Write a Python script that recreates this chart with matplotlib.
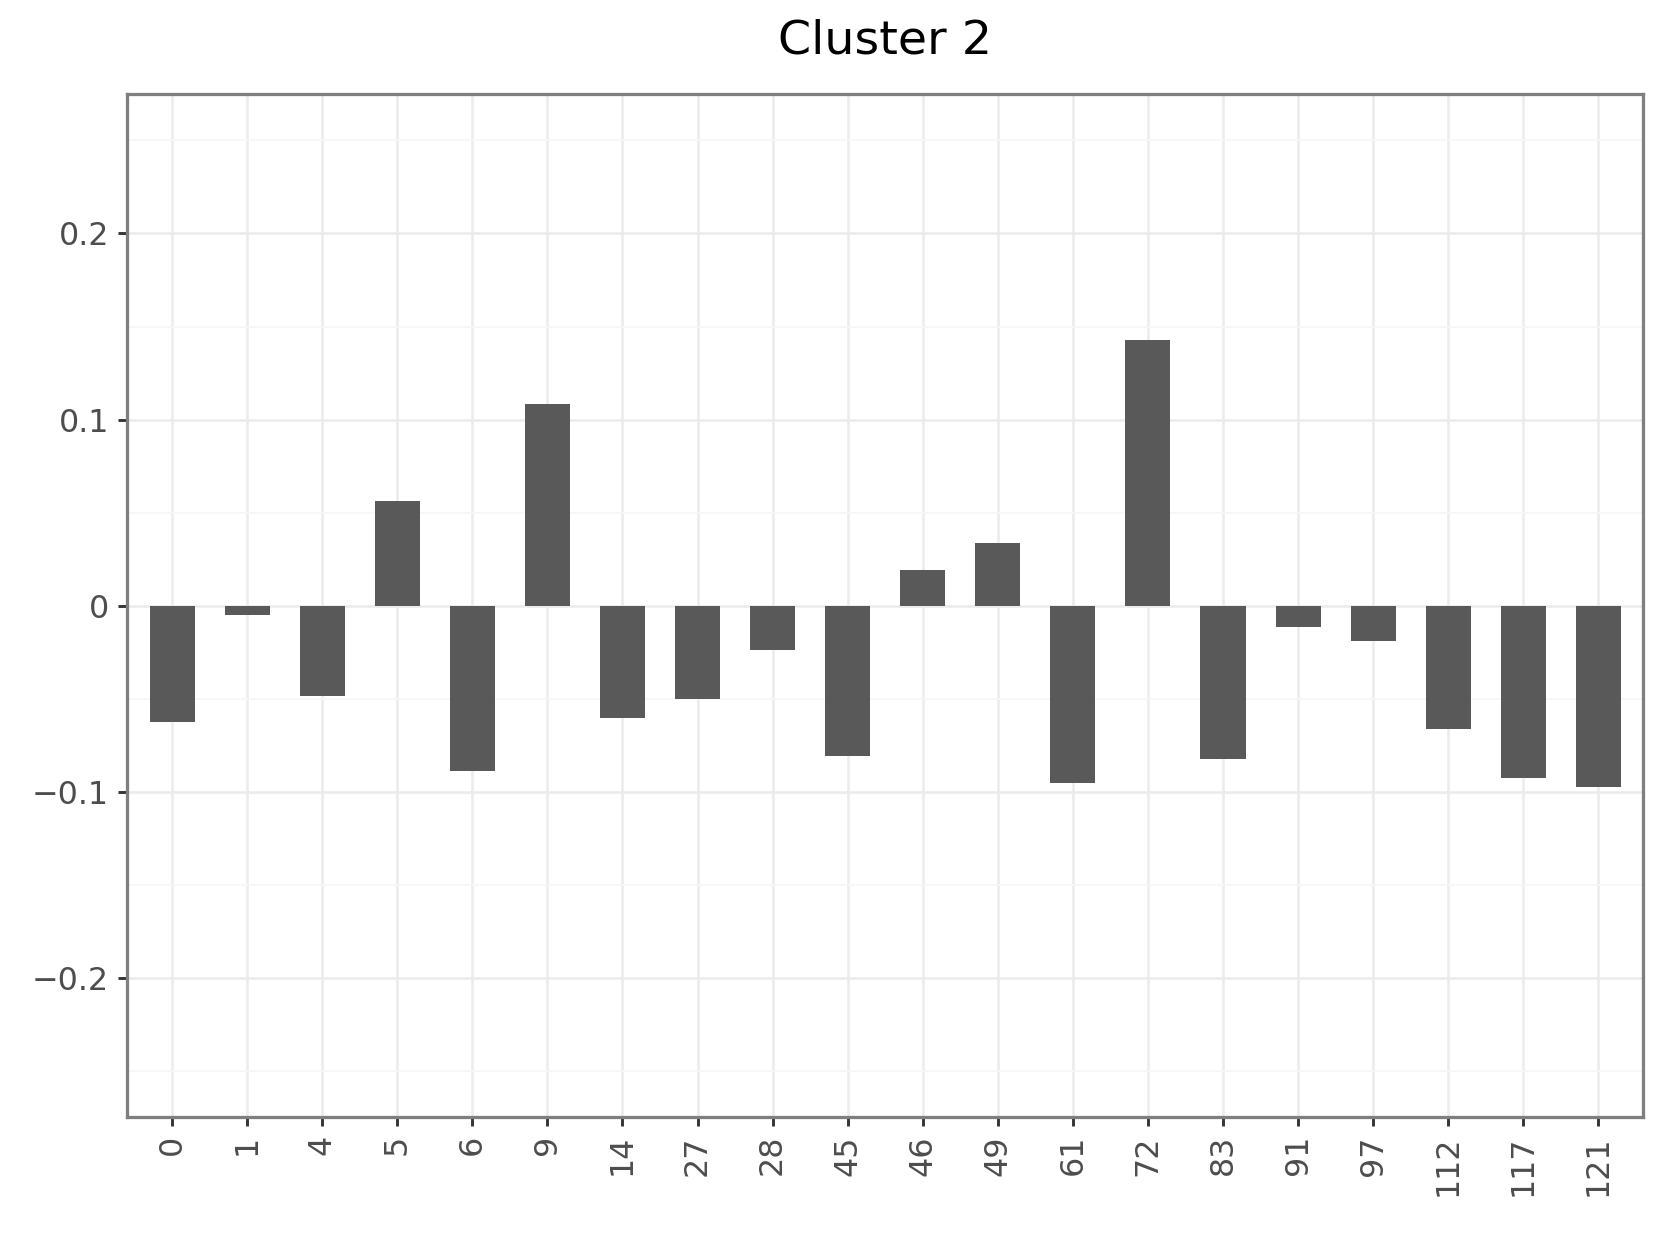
import matplotlib
matplotlib.use("Agg")
import matplotlib.pyplot as plt
import numpy as np
from matplotlib.ticker import FixedLocator

categories = ["0", "1", "4", "5", "6", "9", "14", "27", "28", "45",
              "46", "49", "61", "72", "83", "91", "97", "112", "117", "121"]
values = [-0.0625, -0.005, -0.0485, 0.056, -0.089, 0.1085, -0.0605, -0.050, -0.024, -0.081,
          0.019, 0.0335, -0.0955, 0.1426, -0.0825, -0.0115, -0.019, -0.0665, -0.0925, -0.0975]
y_ticks = [-0.2, -0.1, 0, 0.1, 0.2]
y_labels = ["\u22120.2", "\u22120.1", "0", "0.1", "0.2"]

fig = plt.figure(figsize=(6.4, 4.8), dpi=259.375)
ax = fig.add_axes([0.0765, 0.1028, 0.9135, 0.8217])

x = np.arange(len(categories))
ax.bar(x, values, width=0.6, color="#595959", zorder=3)

ax.set_xlim(-0.6, len(categories) - 0.4)
ax.set_ylim(-0.275, 0.275)

ax.set_xticks(x)
ax.set_xticklabels(categories, rotation=90, va="top", ha="center")
ax.yaxis.set_major_locator(FixedLocator(y_ticks))
ax.set_yticklabels(y_labels)
ax.yaxis.set_minor_locator(FixedLocator([-0.25, -0.15, -0.05, 0.05, 0.15, 0.25]))

ax.grid(True, which="major", color="#ebebeb", linewidth=0.7, zorder=0)
ax.grid(True, which="minor", axis="y", color="#f7f7f7", linewidth=0.5, zorder=0)
ax.set_axisbelow(True)

for s in ax.spines.values():
    s.set_color("#7f7f7f")
    s.set_linewidth(0.9)

ax.tick_params(axis="both", which="major", length=2.5, width=0.8, color="#333333",
               labelcolor="#4d4d4d", labelsize=8.8, pad=2.5)
ax.tick_params(axis="both", which="minor", length=0)

# title centred over the panel, like plotnine
fig.text(0.0765 + 0.9135 / 2, 0.985, "Cluster 2", fontsize=13.2, ha="center", va="top")

fig.savefig("out.png", dpi=259.375)
